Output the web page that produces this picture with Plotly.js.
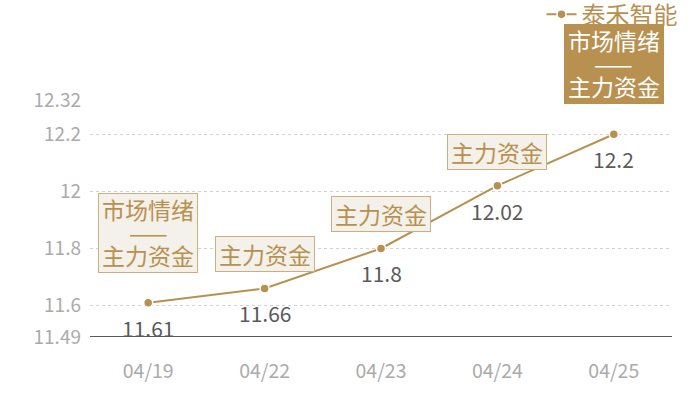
<!DOCTYPE html>
<html>
<head>
<meta charset="utf-8">
<script src="https://cdn.plot.ly/plotly-3.0.1.min.js"></script>
<style>
  body { margin: 0; background: #fff; }
  #chart { width: 700px; height: 400px; }
</style>
</head>
<body>
<div id="chart"></div>
<script>
const dates = ['04/19', '04/22', '04/23', '04/24', '04/25'];
const prices = [11.61, 11.66, 11.8, 12.02, 12.2];
const priceText = ['11.61', '11.66', '11.8', '12.02', '12.2'];
const tags = ['市场情绪<br>——<br>主力资金', '主力资金', '主力资金', '主力资金', '市场情绪<br>——<br>主力资金'];
const yTicks = [11.49, 11.6, 11.8, 12, 12.2, 12.32];
const yTickText = ['11.49', '11.6', '11.8', '12', '12.2', '12.32'];

const gold = '#B8904F';
const font = '"Noto Sans CJK SC", "Noto Sans", sans-serif';

const trace = {
    type: 'scatter',
    mode: 'lines+markers',
    name: '泰禾智能',
    x: dates,
    y: prices,
    line: {color: gold, width: 2},
    marker: {color: gold, size: 9, line: {color: '#fff', width: 1.5}},
    hoverinfo: 'skip',
};

const annotations = [];
dates.forEach((d, i) => {
    // value under each point
    annotations.push({
        x: d, y: prices[i], xref: 'x', yref: 'y',
        text: priceText[i], showarrow: false,
        yanchor: 'top', yshift: -8,
        font: {family: font, size: 21, color: '#5a5a5a'},
    });
    // tag box above each point: box first, then its lines (tighter line spacing than plotly's <br>)
    const last = i === dates.length - 1;
    const lines = tags[i].split('<br>');
    const n = lines.length;
    const shift = n > 1 ? 30 : 16;
    annotations.push({
        x: d, y: prices[i], xref: 'x', yref: 'y',
        text: ' ', showarrow: false,
        yanchor: 'bottom', yshift: shift,
        width: 98, height: 22 * n + 12,
        bgcolor: last ? gold : '#F4F0EA',
        bordercolor: last ? gold : '#CDAE7C',
        borderwidth: 1, borderpad: 0,
    });
    lines.forEach((t, k) => {
        annotations.push({
            x: d, y: prices[i], xref: 'x', yref: 'y',
            text: t, showarrow: false,
            yanchor: 'middle', yshift: shift + 18 + 23 * (n - 1 - k),
            font: {family: font, size: 23, color: last ? '#fff' : gold},
        });
    });
});

const layout = {
    width: 700,
    height: 400,
    margin: {l: 90, r: 28, t: 100, b: 63, autoexpand: false},
    paper_bgcolor: '#fff',
    plot_bgcolor: '#fff',
    font: {family: font},
    showlegend: true,
    legend: {
        orientation: 'h',
        xref: 'container', yref: 'paper',
        x: 0.975, xanchor: 'right',
        y: 1.455, yanchor: 'top',
        font: {family: font, size: 24, color: gold},
        bgcolor: 'rgba(0,0,0,0)',
    },
    xaxis: {
        type: 'category',
        range: [-0.5, 4.5],
        showgrid: false,
        zeroline: false,
        showline: false,
        ticks: '',
        ticklabelstandoff: 20,
        tickfont: {family: font, size: 19.5, color: '#ababab'},
        fixedrange: true,
    },
    yaxis: {
        range: [11.49, 12.32],
        tickmode: 'array',
        tickvals: yTicks,
        ticktext: yTickText,
        showgrid: true,
        gridcolor: '#d2d2d2',
        griddash: 'dot',
        gridwidth: 1,
        zeroline: false,
        showline: false,
        ticks: '',
        ticklabelstandoff: 8,
        tickfont: {family: font, size: 19, color: '#ababab'},
        fixedrange: true,
    },
    shapes: [{
        type: 'line', xref: 'paper', yref: 'y',
        x0: 0, x1: 1, y0: 11.49, y1: 11.49,
        line: {color: '#222', width: 1.5},
        layer: 'above',
    }],
    annotations: annotations,
};

Plotly.newPlot('chart', [trace], layout, {displayModeBar: false, staticPlot: true});
</script>
</body>
</html>
